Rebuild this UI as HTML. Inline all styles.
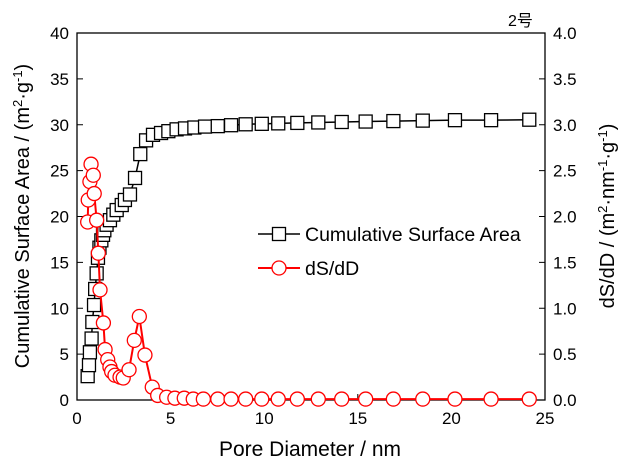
<!DOCTYPE html>
<html><head><meta charset="utf-8"><style>
body{margin:0;background:#fff}
svg{display:block;font-family:"Liberation Sans","Noto Sans CJK SC",sans-serif}
</style></head><body>
<svg id="c" width="626" height="474" viewBox="0 0 626 474">
<g id="axes"></g><g id="series"></g>
</svg>
<script>
const xTicks=[0,5,10,15,20,25];
const yLeftTicks=[0,5,10,15,20,25,30,35,40];
const yRightTicks=["0.0","0.5","1.0","1.5","2.0","2.5","3.0","3.5","4.0"];
const cumX=[0.57,0.64,0.69,0.78,0.82,0.91,0.97,1.05,1.12,1.2,1.3,1.39,1.46,1.58,1.76,1.94,2.12,2.39,2.56,2.83,3.10,3.38,3.69,4.06,4.49,4.88,5.32,5.77,6.27,6.84,7.52,8.23,9.01,9.87,10.75,11.77,12.89,14.14,15.42,16.90,18.47,20.19,22.12,24.16];
const cumY=[2.6,3.8,5.2,6.7,8.5,10.35,12.1,13.8,15.5,16.6,17.4,18.0,18.5,19.1,19.6,20.2,20.7,21.25,21.8,22.4,24.2,26.8,28.3,28.9,29.1,29.3,29.5,29.6,29.7,29.8,29.85,29.95,30.05,30.1,30.15,30.2,30.25,30.3,30.35,30.4,30.45,30.5,30.5,30.55];
const dsX=[0.57,0.60,0.69,0.75,0.87,0.92,1.05,1.14,1.23,1.41,1.50,1.64,1.76,1.85,2.03,2.30,2.47,2.78,3.06,3.33,3.63,4.02,4.31,4.79,5.23,5.73,6.21,6.75,7.52,8.23,9.01,9.87,10.75,11.77,12.89,14.14,15.42,16.90,18.47,20.19,22.12,24.16];
const dsY=[1.94,2.18,2.38,2.57,2.45,2.25,1.96,1.6,1.2,0.84,0.55,0.44,0.36,0.31,0.27,0.25,0.24,0.33,0.65,0.91,0.49,0.14,0.05,0.03,0.02,0.02,0.01,0.01,0.01,0.01,0.01,0.01,0.01,0.01,0.01,0.01,0.01,0.01,0.01,0.01,0.01,0.01];
const L=77,R=545,T=33,B=400;
const sx=v=>L+(v/25)*(R-L), syL=v=>B-(v/40)*(B-T), syR=v=>B-(v/4)*(B-T);
const NS="http://www.w3.org/2000/svg";
function mk(tag,attrs,parent,text){const e=document.createElementNS(NS,tag);for(const k in attrs)e.setAttribute(k,attrs[k]);if(text!==undefined)e.textContent=text;parent.appendChild(e);return e;}
const ax=document.getElementById('axes'), se=document.getElementById('series');
let f=mk('rect',{x:L,y:T,width:R-L,height:B-T,fill:'none',stroke:'#000','stroke-width':1.3},ax);


xTicks.forEach(v=>{const x=sx(v);mk('line',{x1:x,x2:x,y1:B,y2:B-6,stroke:'#000'},ax);
 const t=mk('text',{x:x,y:B+24,'text-anchor':'middle','font-size':17},ax,String(v));
 
 });
yLeftTicks.forEach(v=>{const y=syL(v);mk('line',{x1:L,x2:L+6,y1:y,y2:y,stroke:'#000'},ax);
 const t=mk('text',{x:L-8,y:y+6,'text-anchor':'end','font-size':17},ax,String(v));
 
 });
yRightTicks.forEach(v=>{const y=syR(parseFloat(v));mk('line',{x1:R,x2:R-6,y1:y,y2:y,stroke:'#000'},ax);
 const t=mk('text',{x:R+8,y:y+6,'font-size':17},ax,v);
 
 });
let t=mk('text',{x:310,y:456,'text-anchor':'middle','font-size':21},ax,'Pore Diameter / nm');


t=mk('text',{transform:'translate(29,216) rotate(-90)','text-anchor':'middle','font-size':20},ax);
t.innerHTML='Cumulative Surface Area / (m<tspan dy="-7" font-size="13">2</tspan><tspan dy="7">·g</tspan><tspan dy="-7" font-size="13">-1</tspan><tspan dy="7">)</tspan>';


t=mk('text',{transform:'translate(614,216) rotate(-90)','text-anchor':'middle','font-size':20},ax);
t.innerHTML='dS/dD / (m<tspan dy="-7" font-size="13">2</tspan><tspan dy="7">·nm</tspan><tspan dy="-7" font-size="13">-1</tspan><tspan dy="7">·g</tspan><tspan dy="-7" font-size="13">-1</tspan><tspan dy="7">)</tspan>';


t=mk('text',{x:508,y:26,'font-size':16},ax,'2号');


let p=mk('polyline',{points:cumX.map((x,i)=>sx(x)+','+syL(cumY[i])).join(' '),fill:'none',stroke:'#000','stroke-width':1.5},se);


cumX.forEach((x,i)=>{const r=mk('rect',{x:sx(x)-6.5,y:syL(cumY[i])-6.5,width:13,height:13,fill:'#fff',stroke:'#000','stroke-width':1.3},se);
 
 });
p=mk('polyline',{points:dsX.map((x,i)=>sx(x)+','+syR(dsY[i])).join(' '),fill:'none',stroke:'#f00','stroke-width':2},se);


dsX.forEach((x,i)=>{const c=mk('circle',{cx:sx(x),cy:syR(dsY[i]),r:7,fill:'#fff',stroke:'#f00','stroke-width':1.3},se);
 
 });
const lg=mk('g',{},se);


mk('line',{x1:258,x2:300,y1:234,y2:234,stroke:'#000','stroke-width':1.5},lg);
mk('rect',{x:272.5,y:227.5,width:13,height:13,fill:'#fff',stroke:'#000','stroke-width':1.3},lg);
t=mk('text',{x:305,y:241,'font-size':19.5},lg,'Cumulative Surface Area');


mk('line',{x1:258,x2:300,y1:268,y2:268,stroke:'#f00','stroke-width':2},lg);
mk('circle',{cx:279,cy:268,r:7,fill:'#fff',stroke:'#f00','stroke-width':1.3},lg);
t=mk('text',{x:305,y:275,'font-size':19.5},lg,'dS/dD');


</script>
</body></html>
